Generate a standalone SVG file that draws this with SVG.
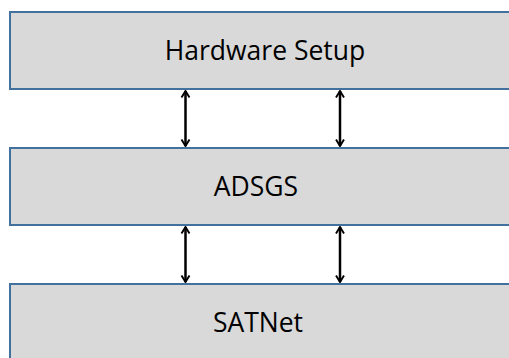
<svg xmlns="http://www.w3.org/2000/svg" width="509" height="358" viewBox="0 0 509 358">
<defs>
<style>
.box{fill:#d9d9d9;stroke:#41719c;stroke-width:2}
.lbl{font-family:"Open Sans","Liberation Sans",sans-serif;font-size:26.5px;fill:#000;text-anchor:middle}
.conn{stroke:#000;stroke-width:2.5;fill:none}
</style>
<marker id="ah" viewBox="0 0 10 12" refX="9" refY="6" markerWidth="8" markerHeight="11" orient="auto-start-reverse" markerUnits="userSpaceOnUse">
<path d="M1,1 L9,6 L1,11" fill="none" stroke="#000" stroke-width="2.4"/>
</marker>
</defs>
<g id="hardware"><rect class="box" x="10" y="12" width="520" height="77"/><text class="lbl" x="265" y="59.5">Hardware Setup</text></g>
<g id="adsgs"><rect class="box" x="10" y="148" width="520" height="77"/><text class="lbl" x="256" y="195.5">ADSGS</text></g>
<g id="satnet"><rect class="box" x="10" y="284" width="520" height="90"/><text class="lbl" x="258" y="331.5">SATNet</text></g>
<g id="connectors">
<line class="conn" x1="185.5" y1="91" x2="185.5" y2="146" marker-start="url(#ah)" marker-end="url(#ah)"/>
<line class="conn" x1="340" y1="91" x2="340" y2="146" marker-start="url(#ah)" marker-end="url(#ah)"/>
<line class="conn" x1="185.5" y1="227" x2="185.5" y2="282" marker-start="url(#ah)" marker-end="url(#ah)"/>
<line class="conn" x1="340" y1="227" x2="340" y2="282" marker-start="url(#ah)" marker-end="url(#ah)"/>
</g>
</svg>
